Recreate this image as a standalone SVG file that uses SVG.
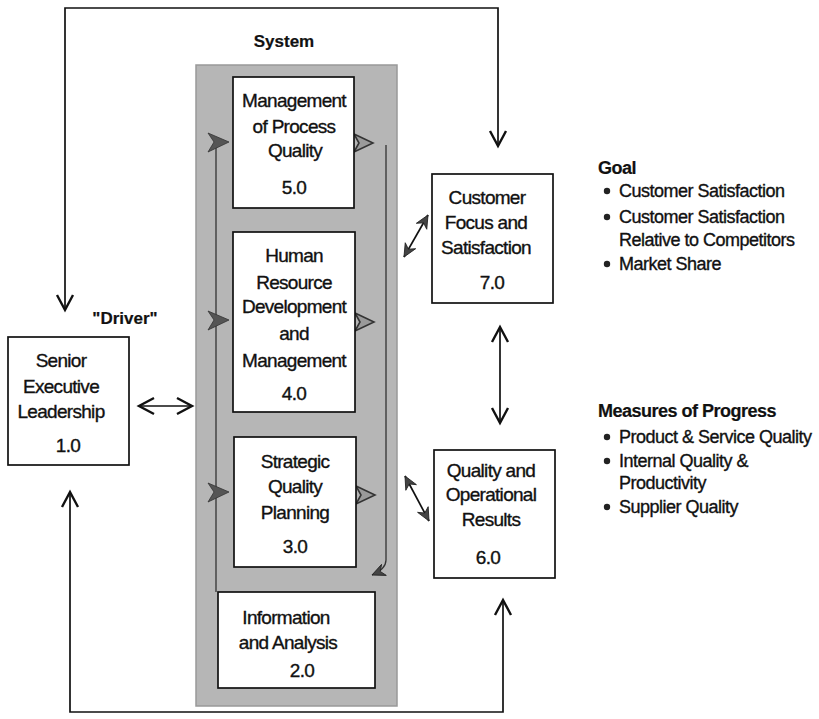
<svg xmlns="http://www.w3.org/2000/svg" width="819" height="719" viewBox="0 0 819 719">
<style>
  text { font-family: "Liberation Sans", Arial, sans-serif; fill: #111; stroke: #111; stroke-width: 0.35px; }
  .bx { font-size: 19px; letter-spacing: -0.7px; text-anchor: middle; }
  .rt { font-size: 18px; letter-spacing: -0.5px; }
  .bold { font-weight: bold; stroke-width: 0.2px; }
  .node { fill: #fff; stroke: #111; stroke-width: 1.7; }
  .conn { fill: none; stroke: #111; stroke-width: 1.7; }
  .thin { fill: none; stroke: #333; stroke-width: 1.3; }
  .dart { fill: #555; stroke: #333; stroke-width: 0.8; }
  .hollow { fill: #9a9a9a; stroke: #333; stroke-width: 1.6; }
</style>
<defs>
  <marker id="vee" viewBox="-17 -10 20 20" markerWidth="20" markerHeight="20" refX="0" refY="0" orient="auto-start-reverse" markerUnits="userSpaceOnUse">
    <path d="M-15,-8 L0,0 L-15,8" fill="none" stroke="#111" stroke-width="2.4" stroke-linejoin="miter"/>
  </marker>
  <marker id="solid" viewBox="-14 -8 16 16" markerWidth="16" markerHeight="16" refX="0" refY="0" orient="auto-start-reverse" markerUnits="userSpaceOnUse">
    <path d="M-13,-6 L0,0 L-13,6 L-9,0 Z" fill="#444" stroke="#222" stroke-width="0.8"/>
  </marker>
</defs>
<rect width="819" height="719" fill="#fff"/>

<g id="system">
  <rect x="196" y="65" width="201" height="641" fill="#b6b6b6" stroke="#999" stroke-width="1.5"/>
  <text x="284" y="47" class="bold" font-size="17" text-anchor="middle">System</text>
</g>

<g id="connectors">
  <path class="conn" d="M65,310 V8 H498 V146" marker-start="url(#vee)" marker-end="url(#vee)"/>
  <path class="conn" d="M70,492 V712 H503 V600" marker-start="url(#vee)" marker-end="url(#vee)"/>
  <path class="conn" d="M139,406 H192" marker-start="url(#vee)" marker-end="url(#vee)"/>
  <path class="conn" d="M500,327 V423" marker-start="url(#vee)" marker-end="url(#vee)"/>
  <path class="conn" d="M404,257 L428,215" marker-start="url(#solid)" marker-end="url(#solid)"/>
  <path class="conn" d="M405,476 L429,521" marker-start="url(#solid)" marker-end="url(#solid)"/>
  <path class="thin" d="M216,592 V143"/>
  <path class="thin" d="M386,145 V560 Q386,569 372,575" marker-end="url(#solid)"/>
  <path class="dart" d="M208,133 L229,142 L208,152 L214,142 Z"/>
  <path class="dart" d="M208,311 L229,320 L208,330 L214,320 Z"/>
  <path class="dart" d="M208,483 L229,492 L208,502 L214,492 Z"/>
  <path class="hollow" d="M354,134 L373,143 L354,152 L359,143 Z"/>
  <path class="hollow" d="M355,313 L374,322 L355,331 L360,322 Z"/>
  <path class="hollow" d="M356,486 L375,495 L356,504 L361,495 Z"/>
</g>

<g id="n1">
  <rect class="node" x="8" y="337" width="121" height="128"/>
  <text class="bx" x="61" y="367">Senior</text>
  <text class="bx" x="61" y="393">Executive</text>
  <text class="bx" x="61" y="418">Leadership</text>
  <text class="bx" x="68" y="452">1.0</text>
  <text class="bold" x="125" y="324" font-size="17" text-anchor="middle">"Driver"</text>
</g>

<g id="n5">
  <rect class="node" x="233" y="77" width="121" height="131"/>
  <text class="bx" x="294" y="107">Management</text>
  <text class="bx" x="294" y="133">of Process</text>
  <text class="bx" x="295" y="157">Quality</text>
  <text class="bx" x="294" y="194">5.0</text>
</g>

<g id="n4">
  <rect class="node" x="233" y="232" width="122" height="180"/>
  <text class="bx" x="294" y="262">Human</text>
  <text class="bx" x="294" y="289">Resource</text>
  <text class="bx" x="294" y="313">Development</text>
  <text class="bx" x="294" y="340">and</text>
  <text class="bx" x="294" y="367">Management</text>
  <text class="bx" x="294" y="400">4.0</text>
</g>

<g id="n3">
  <rect class="node" x="234" y="437" width="122" height="130"/>
  <text class="bx" x="295" y="468">Strategic</text>
  <text class="bx" x="295" y="493">Quality</text>
  <text class="bx" x="295" y="519">Planning</text>
  <text class="bx" x="295" y="553">3.0</text>
</g>

<g id="n2">
  <rect class="node" x="218" y="592" width="157" height="96"/>
  <text class="bx" x="286" y="624">Information</text>
  <text class="bx" x="288" y="649">and Analysis</text>
  <text class="bx" x="302" y="677">2.0</text>
</g>

<g id="n7">
  <rect class="node" x="432" y="174" width="121" height="129"/>
  <text class="bx" x="487" y="204">Customer</text>
  <text class="bx" x="486" y="229">Focus and</text>
  <text class="bx" x="486" y="254">Satisfaction</text>
  <text class="bx" x="492" y="289">7.0</text>
</g>

<g id="n6">
  <rect class="node" x="434" y="450" width="121" height="128"/>
  <text class="bx" x="491" y="477">Quality and</text>
  <text class="bx" x="491" y="501">Operational</text>
  <text class="bx" x="491" y="526">Results</text>
  <text class="bx" x="488" y="564">6.0</text>
</g>

<g id="goal">
  <text class="rt bold" x="598" y="174">Goal</text>
  <circle cx="607" cy="191" r="3.2" fill="#222"/>
  <text class="rt" x="619" y="197">Customer Satisfaction</text>
  <circle cx="607" cy="217" r="3.2" fill="#222"/>
  <text class="rt" x="619" y="223">Customer Satisfaction</text>
  <text class="rt" x="619" y="246">Relative to Competitors</text>
  <circle cx="607" cy="264" r="3.2" fill="#222"/>
  <text class="rt" x="619" y="270">Market Share</text>
</g>

<g id="measures">
  <text class="rt bold" x="598" y="417">Measures of Progress</text>
  <circle cx="607" cy="437" r="3.2" fill="#222"/>
  <text class="rt" x="619" y="443">Product &amp; Service Quality</text>
  <circle cx="607" cy="461" r="3.2" fill="#222"/>
  <text class="rt" x="619" y="467">Internal Quality &amp;</text>
  <text class="rt" x="619" y="489">Productivity</text>
  <circle cx="607" cy="507" r="3.2" fill="#222"/>
  <text class="rt" x="619" y="513">Supplier Quality</text>
</g>
</svg>
